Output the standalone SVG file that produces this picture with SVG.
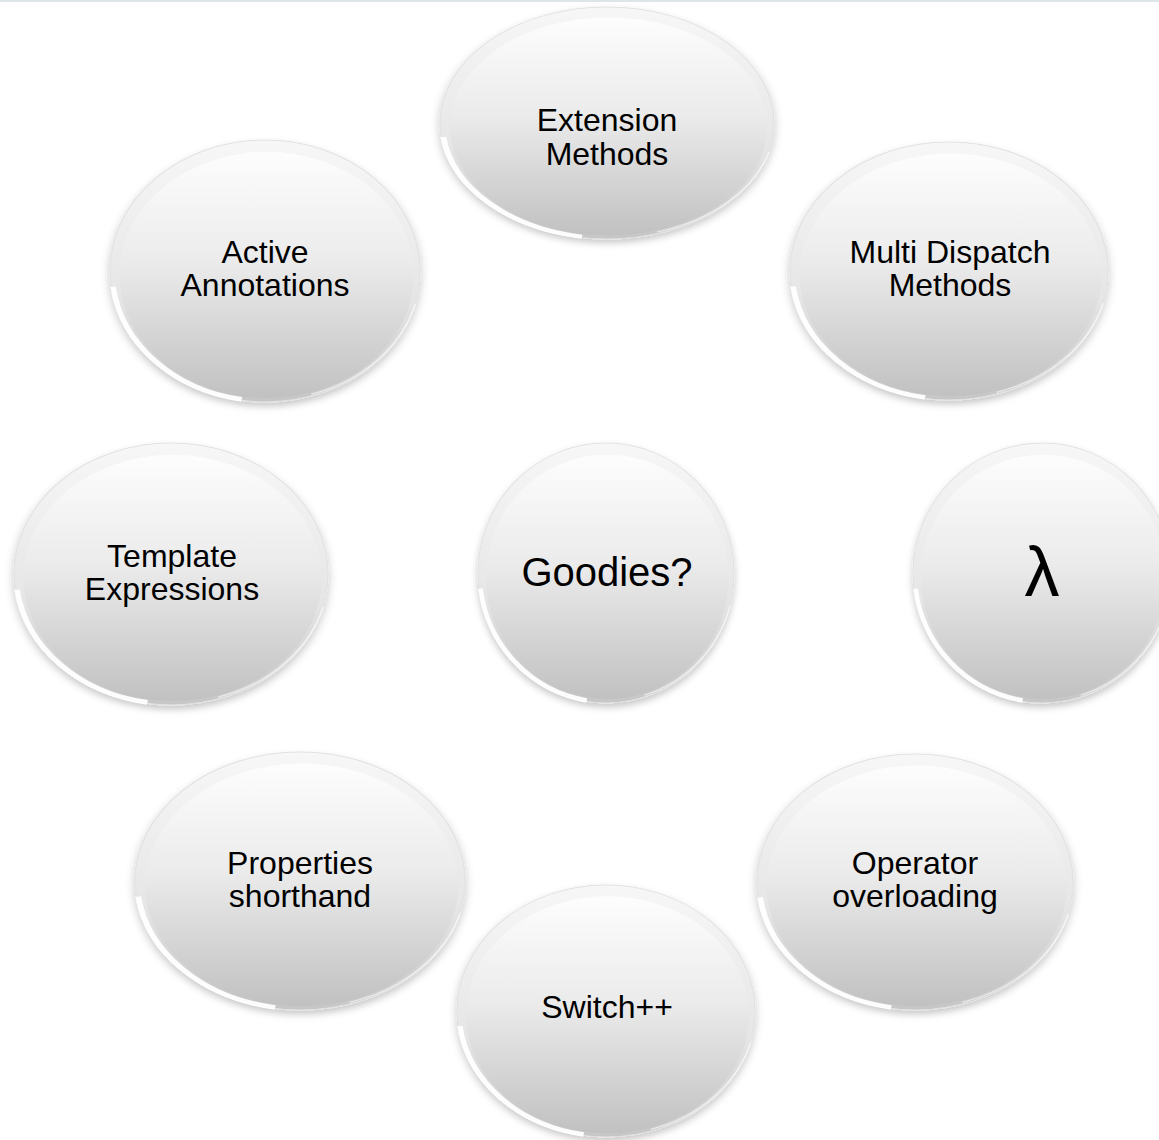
<svg xmlns="http://www.w3.org/2000/svg" xmlns:xlink="http://www.w3.org/1999/xlink" width="1159" height="1140" viewBox="0 0 1159 1140">
<style>
  .lbl { font-family: "Liberation Sans", Arial, sans-serif; font-size: 32px; fill: #000; text-anchor: middle; }
  .big { font-size: 40px; }
  .lam { font-size: 70px; }
</style>
<defs>
  <linearGradient id="rim" x1="0" y1="0" x2="0" y2="1">
    <stop offset="0" stop-color="#f7f7f7"/>
    <stop offset="0.6" stop-color="#e6e6e6"/>
    <stop offset="1" stop-color="#c6c6c6"/>
  </linearGradient>
  <linearGradient id="body" x1="0" y1="0" x2="0" y2="1">
    <stop offset="0" stop-color="#fdfdfd"/>
    <stop offset="0.45" stop-color="#ebebeb"/>
    <stop offset="1" stop-color="#c1c1c1"/>
  </linearGradient>
  <filter id="sh" x="-20%" y="-20%" width="140%" height="150%">
    <feDropShadow dx="0" dy="3" stdDeviation="3" flood-color="#000" flood-opacity="0.22"/>
  </filter>
  <g id="bubble">
    <ellipse cx="0" cy="0" rx="100" ry="100" fill="url(#rim)" stroke="#e2e2e2" stroke-width="0.8" filter="url(#sh)"/>
    <ellipse cx="1" cy="3" rx="95" ry="94" fill="url(#body)"/>
    <path d="M -98 12 A 100 100 0 0 0 -15 98" fill="none" stroke="#ffffff" stroke-width="3.5" opacity="0.95"/>
    <path d="M 30 94 A 100 100 0 0 0 97 25" fill="none" stroke="#ffffff" stroke-width="1" opacity="0.6"/>
  </g>
</defs>
<rect x="0" y="0" width="1159" height="1140" fill="#ffffff"/>
<rect x="0" y="0" width="1159" height="2" fill="#dde6e6"/>
<g id="connectors"></g>
<g id="node-extension">
  <use xlink:href="#bubble" transform="translate(607,123) scale(1.67,1.16)"/>
  <text class="lbl" x="607" y="131">Extension</text>
  <text class="lbl" x="607" y="165">Methods</text>
</g>
<g id="node-active">
  <use xlink:href="#bubble" transform="translate(265,271) scale(1.55,1.31)"/>
  <text class="lbl" x="265" y="263">Active</text>
  <text class="lbl" x="265" y="296">Annotations</text>
</g>
<g id="node-multi">
  <use xlink:href="#bubble" transform="translate(949,271) scale(1.59,1.29)"/>
  <text class="lbl" x="950" y="263">Multi Dispatch</text>
  <text class="lbl" x="950" y="296">Methods</text>
</g>
<g id="node-template">
  <use xlink:href="#bubble" transform="translate(171,574) scale(1.57,1.31)"/>
  <text class="lbl" x="172" y="567">Template</text>
  <text class="lbl" x="172" y="600">Expressions</text>
</g>
<g id="node-goodies">
  <use xlink:href="#bubble" transform="translate(606,573) scale(1.28,1.30)"/>
  <text class="lbl big" x="607" y="586">Goodies?</text>
</g>
<g id="node-lambda">
  <use xlink:href="#bubble" transform="translate(1042,573) scale(1.29,1.30)"/>
  <text class="lbl lam" x="1042" y="596">λ</text>
</g>
<g id="node-properties">
  <use xlink:href="#bubble" transform="translate(300,881) scale(1.65,1.29)"/>
  <text class="lbl" x="300" y="874">Properties</text>
  <text class="lbl" x="300" y="907">shorthand</text>
</g>
<g id="node-operator">
  <use xlink:href="#bubble" transform="translate(915,882) scale(1.58,1.28)"/>
  <text class="lbl" x="915" y="874">Operator</text>
  <text class="lbl" x="915" y="907">overloading</text>
</g>
<g id="node-switch">
  <use xlink:href="#bubble" transform="translate(606,1011) scale(1.49,1.26)"/>
  <text class="lbl" x="607" y="1018">Switch++</text>
</g>
</svg>
